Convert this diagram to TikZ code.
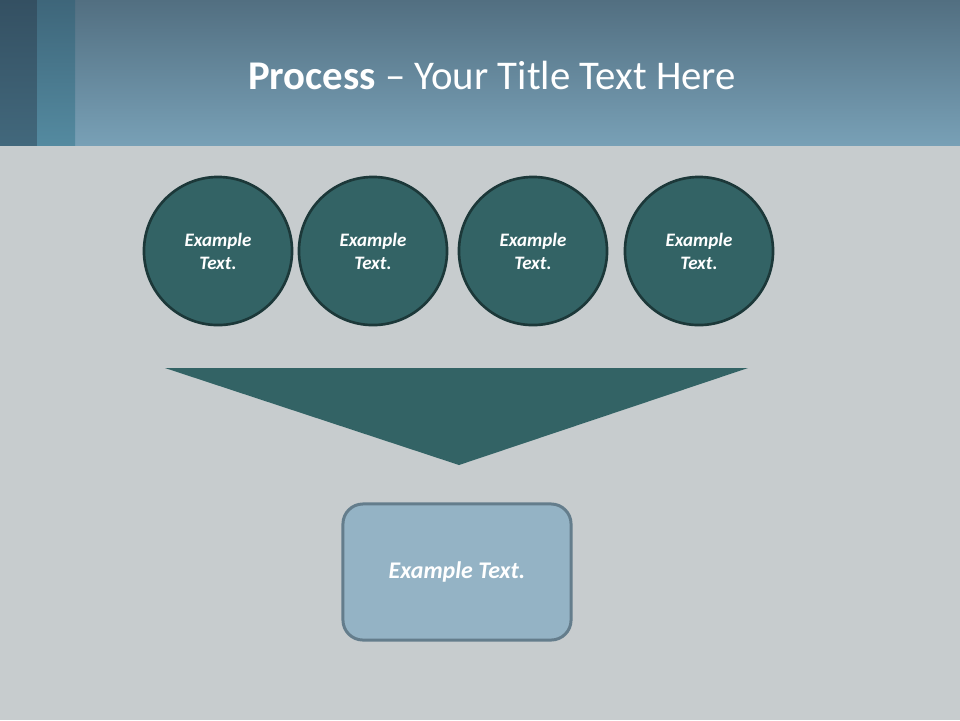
\documentclass[tikz,border=0pt]{standalone}
\usepackage{fontspec}
\setmainfont{Carlito}
\usetikzlibrary{positioning,calc}

\definecolor{barTop}{RGB}{82,111,129}
\definecolor{barBot}{RGB}{120,160,182}
\definecolor{stripA}{RGB}{52,80,98}
\definecolor{stripAb}{RGB}{66,104,124}
\definecolor{stripB}{RGB}{62,102,122}
\definecolor{stripBb}{RGB}{84,138,160}
\definecolor{slideBg}{RGB}{199,204,206}
\definecolor{tealFill}{RGB}{51,99,101}
\definecolor{tealLine}{RGB}{28,56,57}
\definecolor{boxFill}{RGB}{148,179,197}
\definecolor{boxLine}{RGB}{100,125,140}

\begin{document}
\begin{tikzpicture}[
        x=0.01cm, y=-0.01cm,
        step circle/.style={circle, draw=tealLine, line width=0.75pt, fill=tealFill,
            minimum size=1.48cm, inner sep=0pt, align=center, text=white,
            font=\fontsize{5.4}{6.5}\selectfont\bfseries\itshape},
        result box/.style={rectangle, rounded corners=0.2cm, draw=boxLine, line width=0.85pt,
            fill=boxFill, minimum width=2.28cm, minimum height=1.36cm, align=center,
            text=white, font=\fontsize{6.8}{8}\selectfont\bfseries\itshape},
        funnel/.style={fill=tealFill, draw=none}
    ]
    % background
    \useasboundingbox (0,0) rectangle (960,720);
    \fill[slideBg] (0,145) rectangle (960,720);
    \shade[top color=barTop, bottom color=barBot] (0,0) rectangle (960,145);
    \shade[top color=stripA, bottom color=stripAb] (0,0) rectangle (37,145);
    \shade[top color=stripB, bottom color=stripBb] (37,0) rectangle (75,145);

    % title
    \node[text=white, font=\fontsize{11.6}{14}\selectfont] (title) at (492,75)
        {\textbf{Process} -- Your Title Text Here};

    % circles
    \node[step circle] (c1) at (218,251) {Example\\Text.};
    \node[step circle] (c2) at (373,251) {Example\\Text.};
    \node[step circle] (c3) at (533,251) {Example\\Text.};
    \node[step circle] (c4) at (699,251) {Example\\Text.};

    % funnel
    \coordinate (fl) at (165,368);
    \coordinate (fr) at (748,368);
    \coordinate (tip) at (459,465);
    \fill[funnel] (fl) -- (fr) -- (tip) -- cycle;

    \node[result box] (result) at (457,572) {Example Text.};
\end{tikzpicture}
\end{document}
